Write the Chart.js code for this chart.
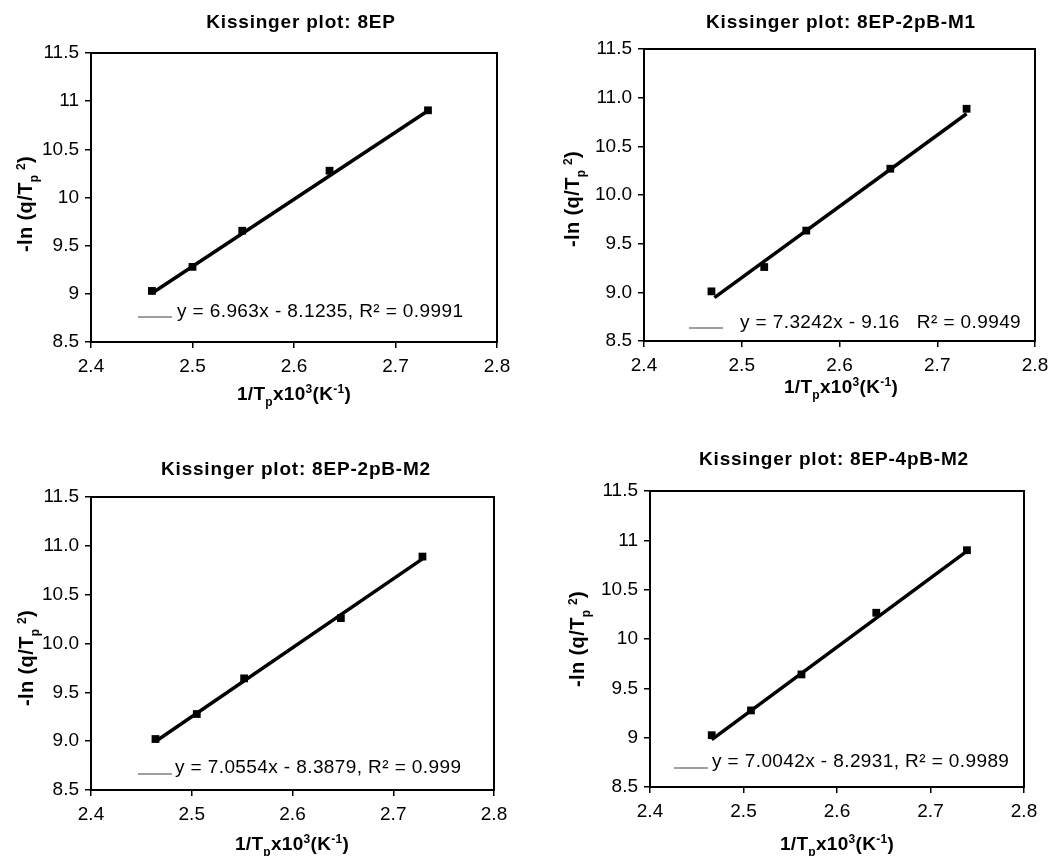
<!DOCTYPE html>
<html>
<head>
<meta charset="utf-8">
<script src="https://cdn.jsdelivr.net/npm/chart.js@4.4.1/dist/chart.umd.min.js"></script>
<style>
  html, body { margin: 0; padding: 0; background: #fff; }
  #wrap { position: relative; width: 1059px; height: 856px; overflow: hidden; }
  canvas { position: absolute; }
</style>
</head>
<body>
<div id="wrap">
  <canvas id="c1" width="530" height="420" style="left:0;top:0"></canvas>
  <canvas id="c2" width="529" height="420" style="left:530px;top:0"></canvas>
  <canvas id="c3" width="530" height="436" style="left:0;top:420px"></canvas>
  <canvas id="c4" width="529" height="436" style="left:530px;top:420px"></canvas>
</div>
<script>
// tick values / labels
const xTickValues = [2.4, 2.5, 2.6, 2.7, 2.8];
const xTickLabels = ['2.4', '2.5', '2.6', '2.7', '2.8'];
const yTickValues = [8.5, 9, 9.5, 10, 10.5, 11, 11.5];
const yTickLabelsShort = ['8.5', '9', '9.5', '10', '10.5', '11', '11.5'];
const yTickLabelsFixed = ['8.5', '9.0', '9.5', '10.0', '10.5', '11.0', '11.5'];

const titles = ['Kissinger plot: 8EP', 'Kissinger plot: 8EP-2pB-M1', 'Kissinger plot: 8EP-2pB-M2', 'Kissinger plot: 8EP-4pB-M2'];

// measured points (1/Tp x10^3, -ln(q/Tp^2))
const x8EP = [2.460, 2.500, 2.549, 2.635, 2.732];
const y8EP = [9.03, 9.28, 9.655, 10.278, 10.905];
const xM1 = [2.469, 2.523, 2.566, 2.652, 2.730];
const yM1 = [9.01, 9.26, 9.634, 10.27, 10.886];
const x2M2 = [2.464, 2.505, 2.552, 2.648, 2.729];
const y2M2 = [9.022, 9.278, 9.643, 10.26, 10.89];
const x4M2 = [2.466, 2.508, 2.562, 2.642, 2.739];
const y4M2 = [9.025, 9.276, 9.641, 10.266, 10.90];

// linear trendline end points
const trendX8EP = [2.460, 2.732], trendY8EP = [9.006, 10.900];
const trendXM1 = [2.472, 2.730], trendYM1 = [8.945, 10.835];
const trendX2M2 = [2.464, 2.729], trendY2M2 = [8.996, 10.866];
const trendX4M2 = [2.466, 2.739], trendY4M2 = [8.980, 10.891];

const equations = [
  'y = 6.963x - 8.1235, R² = 0.9991',
  'y = 7.3242x - 9.16   R² = 0.9949',
  'y = 7.0554x - 8.3879, R² = 0.999',
  'y = 7.0042x - 8.2931, R² = 0.9989'
];

const FAM = "'Liberation Sans', Arial, sans-serif";
const X_TITLE = [['1/T', ''], ['p', 'sub'], ['x10', ''], ['3', 'sup'], ['(K', ''], ['-1', 'sup'], [')', '']];
const Y_TITLE = [['-ln (q/T', ''], ['p', 'sub'], ['\u2009', ''], ['2', 'sup'], [')', '']];

function drawRich(ctx, parts, x, y, size, weight, spacing) {
  const fontOf = k => `${weight} ${k ? Math.round(size * 0.62) : size}px ${FAM}`;
  ctx.letterSpacing = spacing + 'px';
  let w = 0;
  parts.forEach(([t, k]) => { ctx.font = fontOf(k); w += ctx.measureText(t).width; });
  let cx = x - w / 2;
  ctx.textAlign = 'left';
  ctx.textBaseline = 'alphabetic';
  ctx.fillStyle = '#000';
  parts.forEach(([t, k]) => {
    ctx.font = fontOf(k);
    const dy = k === 'sub' ? size * 0.3 : k === 'sup' ? -size * 0.36 : 0;
    ctx.fillText(t, cx, y + dy);
    cx += ctx.measureText(t).width;
  });
  ctx.letterSpacing = '0px';
}

const decor = {
  id: 'decor',
  afterDraw(chart, args, o) {
    const ctx = chart.ctx, a = chart.chartArea;
    ctx.save();
    ctx.strokeStyle = '#000';
    ctx.lineWidth = 2;
    ctx.strokeRect(a.left, a.top, a.right - a.left, a.bottom - a.top);

    drawRich(ctx, [[o.title, '']], o.title_x, o.title_y, 19, 'bold', 0.8);
    drawRich(ctx, X_TITLE, o.xt_x, o.xt_y, 19, 'bold', 0.3);

    ctx.save();
    ctx.translate(o.yt_x, o.yt_y);
    ctx.rotate(-Math.PI / 2);
    drawRich(ctx, Y_TITLE, 0, 0, 20, 'bold', 0.4);
    ctx.restore();

    // trendline legend
    ctx.strokeStyle = '#7f7f7f';
    ctx.lineWidth = 1.5;
    ctx.beginPath();
    ctx.moveTo(o.lg_x1, o.lg_y);
    ctx.lineTo(o.lg_x2, o.lg_y);
    ctx.stroke();
    ctx.font = `19px ${FAM}`;
    ctx.letterSpacing = '0.4px';
    ctx.fillStyle = '#000';
    ctx.textAlign = 'left';
    ctx.textBaseline = 'alphabetic';
    ctx.fillText(o.label, o.lg_tx, o.lg_ty);
    ctx.letterSpacing = '0px';
    ctx.restore();
  }
};

function makeChart(id, xs, ys, tx, ty, yLabels, lay, deco) {
  const canvas = document.getElementById(id);
  const W = canvas.width, H = canvas.height;
  new Chart(canvas, {
    type: 'scatter',
    data: {
      datasets: [{
        data: xs.map((x, i) => ({ x, y: ys[i] })),
        backgroundColor: '#000',
        borderColor: '#000',
        borderWidth: 0,
        pointStyle: 'rect',
        pointRadius: 5.5,
        order: 1
      }, {
        data: tx.map((x, i) => ({ x, y: ty[i] })),
        showLine: true,
        borderColor: '#000',
        borderWidth: 3.5,
        pointRadius: 0,
        order: 0
      }]
    },
    options: {
      responsive: false,
      animation: false,
      layout: { padding: { left: 0, top: lay.T, right: W - lay.R, bottom: 0 } },
      plugins: { legend: { display: false }, tooltip: { enabled: false }, decor: deco },
      scales: {
        x: {
          type: 'linear', min: 2.4, max: 2.8,
          afterBuildTicks: s => { s.ticks = xTickValues.map(v => ({ value: v })); },
          afterFit: s => { s.height = H - lay.B; },
          ticks: {
            color: '#000', padding: 7,
            font: { family: FAM, size: 19 },
            callback: (v) => xTickLabels[xTickValues.indexOf(v)]
          },
          grid: { drawOnChartArea: false, drawTicks: true, tickLength: 6, color: '#000', lineWidth: 1.5 },
          border: { display: true, color: '#000', width: 2 }
        },
        y: {
          type: 'linear', min: 8.5, max: 11.5,
          afterBuildTicks: s => { s.ticks = yTickValues.map(v => ({ value: v })); },
          afterFit: s => { s.width = lay.L; },
          ticks: {
            color: '#000', padding: 6,
            font: { family: FAM, size: 19 },
            callback: (v) => yLabels[yTickValues.indexOf(v)]
          },
          grid: { drawOnChartArea: false, drawTicks: true, tickLength: 6, color: '#000', lineWidth: 1.5 },
          border: { display: true, color: '#000', width: 2 }
        }
      }
    },
    plugins: [decor]
  });
}

makeChart('c1', x8EP, y8EP, trendX8EP, trendY8EP, yTickLabelsShort,
  { L: 91, T: 53, R: 497, B: 342 },
  { title: titles[0], title_x: 301, title_y: 28, xt_x: 294, xt_y: 400, yt_x: 32, yt_y: 204,
    lg_x1: 138, lg_x2: 172, lg_y: 317, lg_tx: 177, lg_ty: 317, label: equations[0] });

makeChart('c2', xM1, yM1, trendXM1, trendYM1, yTickLabelsFixed,
  { L: 114, T: 49, R: 505, B: 341 },
  { title: titles[1], title_x: 311, title_y: 28, xt_x: 311, xt_y: 393, yt_x: 49, yt_y: 199,
    lg_x1: 159, lg_x2: 193, lg_y: 328, lg_tx: 210, lg_ty: 328, label: equations[1] });

makeChart('c3', x2M2, y2M2, trendX2M2, trendY2M2, yTickLabelsFixed,
  { L: 91, T: 77, R: 494, B: 370 },
  { title: titles[2], title_x: 296, title_y: 55, xt_x: 292, xt_y: 430, yt_x: 33, yt_y: 238,
    lg_x1: 138, lg_x2: 172, lg_y: 354, lg_tx: 175, lg_ty: 353, label: equations[2] });

makeChart('c4', x4M2, y4M2, trendX4M2, trendY4M2, yTickLabelsShort,
  { L: 120, T: 71, R: 494, B: 367 },
  { title: titles[3], title_x: 304, title_y: 45, xt_x: 307, xt_y: 430, yt_x: 54, yt_y: 219,
    lg_x1: 144, lg_x2: 178, lg_y: 348, lg_tx: 182, lg_ty: 347, label: equations[3] });
</script>
</body>
</html>
